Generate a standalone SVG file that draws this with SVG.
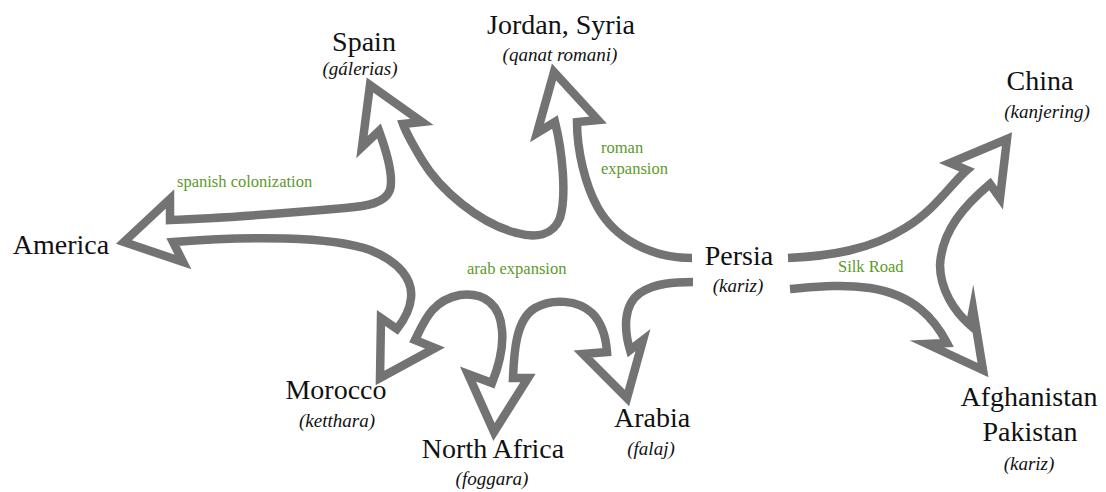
<svg xmlns="http://www.w3.org/2000/svg" width="1106" height="492" viewBox="0 0 1106 492">
<style>
.arrow{fill:#ffffff;stroke:#737373;stroke-width:8.5;stroke-linejoin:miter;stroke-miterlimit:10;stroke-linecap:butt}
.t{font-family:"Liberation Serif","Times New Roman",serif;font-size:28px;fill:#111;text-anchor:middle}
.s{font-family:"Liberation Serif","Times New Roman",serif;font-size:19px;font-style:italic;fill:#111;text-anchor:middle}
.g{font-family:"Liberation Serif","Times New Roman",serif;font-size:16.5px;fill:#5c9a2b}
</style>
<rect width="1106" height="492" fill="#ffffff"/>
<g id="connectors">
<path id="west-flows" class="arrow" d="M692,258 C650,258 615,238 598,208 C585,185 577,150 577,122 L598,120 L554,72 L537,133 L555,122 C562,150 567,195 560,218 C553,236 535,238 517,233 C480,224 440,190 422,160 C413,145 407,135 403,124 L422,122 L370,85 L362,147 L379,131 C386,150 394,175 390,190 C385,203 368,206 345,208 C300,212 230,218 170,220 L170,199 L124,242 L183,262 L173,242 C250,236 330,236 370,250 C400,262 413,280 411,298 C410,310 404,320 397,329 L381,318 L380,378 L435,348 L415,340 C424,322 432,300 460,295 C485,292 500,305 502,330 C504,350 498,368 492,383 L468,374 L494,432 L528,378 L513,378 C514,355 515,320 535,308 C552,298 578,300 592,313 C602,323 606,338 607,352 L583,354 L627,398 L643,340 L630,350 C624,330 623,305 640,293 C655,283 675,282 693,282"/>
<path id="east-flows" class="arrow" d="M788,258 C830,256 870,250 905,228 C935,210 950,185 967,170 L950,163 L1007,139 L1000,198 L990,184 C965,205 942,230 940,265 C940,290 955,312 970,325 L973,309 L983,370 L927,344 L947,343 C935,320 915,295 870,288 C840,284 815,287 790,289"/>
</g>
<g id="labels">
<text class="g" x="177" y="187">spanish colonization</text>
<text class="g" x="601" y="153">roman</text>
<text class="g" x="601" y="174">expansion</text>
<text class="g" x="467" y="274">arab expansion</text>
<text class="g" x="838" y="272">Silk Road</text>
</g>
<g id="node-spain"><text class="t" x="364" y="51">Spain</text><text class="s" x="360" y="75">(gálerias)</text></g>
<g id="node-jordan"><text class="t" x="561" y="34">Jordan, Syria</text><text class="s" x="560" y="61">(qanat romani)</text></g>
<g id="node-china"><text class="t" x="1040" y="90">China</text><text class="s" x="1047" y="118">(kanjering)</text></g>
<g id="node-america"><text class="t" x="61" y="254">America</text></g>
<g id="node-persia"><text class="t" x="739" y="265">Persia</text><text class="s" x="738" y="292">(kariz)</text></g>
<g id="node-morocco"><text class="t" x="336" y="399">Morocco</text><text class="s" x="337" y="427">(ketthara)</text></g>
<g id="node-north-africa"><text class="t" x="493" y="458">North Africa</text><text class="s" x="492" y="485">(foggara)</text></g>
<g id="node-arabia"><text class="t" x="652" y="427">Arabia</text><text class="s" x="651" y="455">(falaj)</text></g>
<g id="node-afghanistan"><text class="t" x="1029" y="406">Afghanistan</text><text class="t" x="1030" y="441">Pakistan</text><text class="s" x="1029" y="470">(kariz)</text></g>
</svg>
